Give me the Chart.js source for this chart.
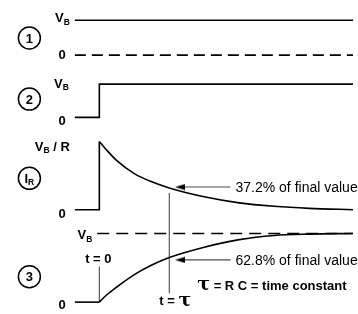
<!DOCTYPE html>
<html><head><meta charset="utf-8">
<script src="https://cdn.jsdelivr.net/npm/chart.js@4/dist/chart.umd.min.js"></script>
<style>html,body{margin:0;padding:0;background:#fff}#wrap{width:358px;height:314px;position:relative}canvas{display:block}</style>
</head><body><div id="wrap"><canvas id="c" width="358" height="314"></canvas></div>
<script>
// ---------- DATA (time in units of tau, values normalised to final value) ----------
const tStart = -0.35;          // where traces begin
const tStop = 3.63;            // right edge of the traces
// Panel 1 : battery voltage V_B (constant) and zero reference
const p1Time = [tStart, tStop];
const p1Value = [1, 1];
const p1Zero = [0, 0];
// Panel 2 : voltage applied by the switch (step at t = 0)
const p2Time = [tStart, 0, 0, tStop];
const p2Value = [0, 0, 1, 1];
// Panel I_R : resistor current (jump to V_B/R then decay)
const irJumpTime = [tStart, 0, 0];
const irJumpValue = [0, 0, 1];
const irTime = [0, 0.1, 0.25, 0.5, 0.75, 1, 1.5, 2, 2.5, 3, 3.63];
const irValue = [1, 0.88, 0.72, 0.53, 0.41, 0.32, 0.19, 0.10, 0.05, 0.02, 0];
// Panel 3 : capacitor voltage (rises toward V_B)
const vcLeadTime = [tStart, 0];
const vcLeadValue = [0, 0];
const vcTime = [0, 0.1, 0.25, 0.5, 0.75, 1, 1.5, 2, 2.5, 3, 3.63];
const vcValue = [0, 0.1, 0.22, 0.40, 0.54, 0.65, 0.80, 0.91, 0.97, 0.99, 1];
const vcFinalTime = [-0.03, tStop];
const vcFinalValue = [1, 1];
// markers
const t0MarkTime = [0, 0];      const t0MarkValue = [0, 0.52];
const tauMarkTime = [1, 1];     const tauMarkValue = [0.13, 1.59];
const arrowTime = [1.875, 1.153];
const arrowIrValue = [0.333, 0.333];
const arrowVcValue = [0.615, 0.615];
// text
const levelLabels = ['V', 'B', '0'];
const panelNames = ['1', '2', 'I', 'R', '3'];
const pctLabels = ['37.2% of final value', '62.8% of final value'];
const tauText = 'τ';

// ---------- LAYOUT ----------
const W = 358, H = 314;
const pxPerTau = 72, t0px = 97;
const panels = { a1: [15.7, 51.7], a2: [81.7, 116], a3: [141, 211.5], a4: [236, 307] };
function yAxis(top, bottom) {
  const h = bottom - top;
  return { type: 'linear', display: false, min: 1 - (H - top) / h, max: 1 + top / h };
}
function pts(xs, ys) { return xs.map((x, i) => ({ x, y: ys[i] })); }

const arrowImg = (() => {
  const c = document.createElement('canvas'); c.width = 10; c.height = 7;
  const g = c.getContext('2d'); g.fillStyle = '#000';
  g.beginPath(); g.moveTo(0, 3.5); g.lineTo(10, 0.6); g.lineTo(10, 6.4); g.closePath(); g.fill();
  return c;
})();

const BLK = '#000', GRY = '#4a4a4a';
const base = { pointRadius: 0, tension: 0, fill: false, borderColor: BLK, borderWidth: 1.6, borderCapStyle: 'butt' };
const datasets = [
  { ...base, yAxisID: 'a1', data: pts(p1Time, p1Value) },
  { ...base, yAxisID: 'a1', data: pts(p1Time, p1Zero), borderDash: [11, 6] },
  { ...base, yAxisID: 'a2', data: pts(p2Time, p2Value) },
  { ...base, yAxisID: 'a3', data: pts(irJumpTime, irJumpValue) },
  { ...base, yAxisID: 'a3', data: pts(irTime, irValue), cubicInterpolationMode: 'monotone' },
  { ...base, yAxisID: 'a4', data: pts(vcFinalTime, vcFinalValue), borderDash: [12, 7] },
  { ...base, yAxisID: 'a4', data: pts(vcLeadTime, vcLeadValue) },
  { ...base, yAxisID: 'a4', data: pts(vcTime, vcValue), cubicInterpolationMode: 'monotone' },
  { ...base, yAxisID: 'a4', data: pts(t0MarkTime, t0MarkValue), borderColor: GRY, borderWidth: 1.1 },
  { ...base, yAxisID: 'a4', data: pts(tauMarkTime, tauMarkValue), borderColor: GRY, borderWidth: 1.1 },
  { ...base, yAxisID: 'a3', data: pts(arrowTime, arrowIrValue), borderColor: GRY, borderWidth: 1.1,
    pointRadius: [0, 4], pointStyle: arrowImg },
  { ...base, yAxisID: 'a4', data: pts(arrowTime, arrowVcValue), borderColor: GRY, borderWidth: 1.1,
    pointRadius: [0, 4], pointStyle: arrowImg },
];

const FONT = '"Liberation Sans", Arial, sans-serif';
const B13 = 'bold 13px ' + FONT, B8 = 'bold 8.5px ' + FONT, N13 = '14px ' + FONT;
const TAUF = 'bold 19px "DejaVu Serif", serif';

function rich(ctx, parts, x, y, align) {
  let w = 0;
  parts.forEach(p => { ctx.font = p.f; p.w = ctx.measureText(p.s).width; w += p.w; });
  let cx = align === 'right' ? x - w : align === 'center' ? x - w / 2 : x;
  parts.forEach(p => { ctx.font = p.f; ctx.fillText(p.s, cx, y + (p.dy || 0)); cx += p.w; });
}
const VB = [{ s: levelLabels[0], f: B13 }, { s: levelLabels[1], f: B8, dy: 2.5 }];

const textPlugin = {
  id: 'circuitText',
  afterDatasetsDraw(chart) {
    const ctx = chart.ctx, X = v => chart.scales.x.getPixelForValue(v);
    const Y = (a, v) => chart.scales[a].getPixelForValue(v);
    ctx.save();
    ctx.fillStyle = '#000'; ctx.textAlign = 'left'; ctx.textBaseline = 'alphabetic';
    const lx = X(tStart);
    // level labels
    rich(ctx, VB, lx - 5, Y('a1', 1) + 2, 'right');
    rich(ctx, [{ s: levelLabels[2], f: B13 }], lx - 9, Y('a1', 0) + 4, 'right');
    rich(ctx, VB, lx - 6, Y('a2', 1) + 3.5, 'right');
    rich(ctx, [{ s: levelLabels[2], f: B13 }], lx - 9, Y('a2', 0) + 8, 'right');
    rich(ctx, [...VB, { s: ' / R', f: B13 }], lx - 5, Y('a3', 1) + 9, 'right');
    rich(ctx, [{ s: levelLabels[2], f: B13 }], lx - 9, Y('a3', 0) + 8.5, 'right');
    rich(ctx, VB, X(0) - 7, Y('a4', 1) + 6, 'right');
    rich(ctx, [{ s: levelLabels[2], f: B13 }], lx - 9, Y('a4', 0) + 6.5, 'right');
    // circled panel numbers
    const cx = X(-1.0);
    const circ = [['a1', 0.49, [{ s: panelNames[0], f: B13 }]], ['a2', 0.55, [{ s: panelNames[1], f: B13 }]],
      ['a3', 0.46, [{ s: panelNames[2], f: B13 }, { s: panelNames[3], f: B8, dy: 2.5 }]],
      ['a4', 0.37, [{ s: panelNames[4], f: B13 }]]];
    circ.forEach(([a, v, parts]) => {
      const cy = Y(a, v);
      ctx.beginPath(); ctx.lineWidth = 1.5; ctx.strokeStyle = '#000';
      ctx.arc(cx, cy, 11, 0, Math.PI * 2); ctx.stroke();
      rich(ctx, parts, cx, cy + 4.6, 'center');
    });
    // t = 0
    rich(ctx, [{ s: 't = 0', f: B13 }], X(0) - 1, Y('a4', 0.52) - 3, 'center');
    // t = tau
    rich(ctx, [{ s: 't = ', f: B13 }, { s: tauText, f: TAUF, dy: 1 }], X(1) + 6, Y('a4', 0.13) + 12, 'center');
    // tau = RC = time constant
    rich(ctx, [{ s: tauText, f: TAUF, dy: 0 }, { s: ' = R C = time constant', f: B13 }], X(1.4), Y('a4', 0.13) - 3, 'left');
    // percentages
    rich(ctx, [{ s: pctLabels[0], f: N13 }], X(arrowTime[0]) + 5, Y('a3', arrowIrValue[0]) + 4.8, 'left');
    rich(ctx, [{ s: pctLabels[1], f: N13 }], X(arrowTime[0]) + 5, Y('a4', arrowVcValue[0]) + 4.8, 'left');
    ctx.restore();
  }
};

new Chart(document.getElementById('c'), {
  type: 'line',
  data: { datasets },
  options: {
    responsive: false, animation: false, devicePixelRatio: 1,
    layout: { padding: 0 },
    plugins: { legend: { display: false }, tooltip: { enabled: false }, title: { display: false } },
    events: [],
    scales: {
      x: { type: 'linear', display: false, min: -t0px / pxPerTau, max: (W - t0px) / pxPerTau },
      a1: yAxis(...panels.a1), a2: yAxis(...panels.a2), a3: yAxis(...panels.a3), a4: yAxis(...panels.a4)
    }
  },
  plugins: [textPlugin]
});
</script></body></html>
